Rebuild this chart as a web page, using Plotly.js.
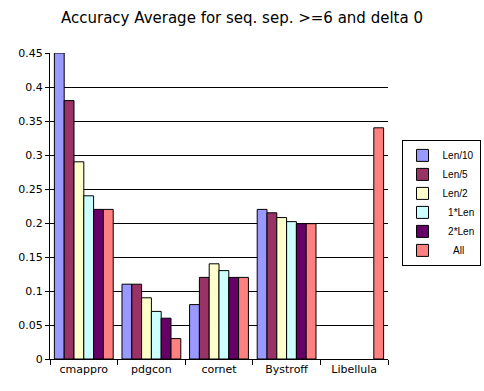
<!DOCTYPE html>
<html><head><meta charset="utf-8">
<script src="https://cdn.plot.ly/plotly-3.0.1.min.js"></script>
<style>html,body{margin:0;padding:0;background:#fff}</style>
</head><body><div id="chart" style="width:484px;height:391px"></div>
<script>
const categories = ["cmappro", "pdgcon", "cornet", "Bystroff", "Libellula"];
const seriesNames = ["Len/10", "Len/5", "Len/2", "  1*Len", "  2*Len", "    All"];
const len10 = [0.45, 0.11, 0.08, 0.22, null];
const len5  = [0.38, 0.11, 0.12, 0.215, null];
const len2  = [0.29, 0.09, 0.14, 0.208, null];
const len1x = [0.24, 0.07, 0.13, 0.202, null];
const len2x = [0.22, 0.06, 0.12, 0.199, null];
const all   = [0.22, 0.03, 0.12, 0.199, 0.34];
const colors = ["#9999FF", "#993366", "#FFFFCC", "#CCFFFF", "#660066", "#FF8080"];
const yTicks = [0, 0.05, 0.1, 0.15, 0.2, 0.25, 0.3, 0.35, 0.4, 0.45];
const yTickText = ["0", "0.05", "0.1", "0.15", "0.2", "0.25", "0.3", "0.35", "0.4", "0.45"];

const values = [len10, len5, len2, len1x, len2x, all];
const traces = values.map((v, i) => ({
  type: "bar", x: categories, y: v, name: seriesNames[i],
  marker: {color: colors[i], line: {color: "#000", width: 1}},
  hoverinfo: "none"
}));
const layout = {
  width: 484, height: 391,
  margin: {l: 50, r: 96, t: 53, b: 32, autoexpand: false},
  paper_bgcolor: "#fff", plot_bgcolor: "#fff",
  barmode: "group", bargap: 0.13, bargroupgap: 0,
  font: {family: "DejaVu Sans, Verdana, sans-serif", size: 11, color: "#000"},
  title: {text: "Accuracy Average for seq. sep. >=6 and delta 0",
          font: {size: 15, family: "DejaVu Sans, Verdana, sans-serif"},
          x: 0.5, xanchor: "center", y: 0.955, yanchor: "middle", yref: "container"},
  xaxis: {showline: true, linecolor: "#000", linewidth: 1, ticks: "outside", tickson: "boundaries",
          ticklen: 5, tickcolor: "#000", showgrid: false, zeroline: false,
          tickfont: {size: 11}},
  yaxis: {range: [0, 0.45], tickvals: yTicks, ticktext: yTickText, showline: true, linecolor: "#000",
          linewidth: 1, ticks: "outside", ticklen: 4, tickcolor: "#000", showgrid: true,
          gridcolor: "#000", gridwidth: 1, zeroline: false, tickfont: {size: 11}},
  legend: {x: 1.04, xanchor: "left", y: 0.716, yanchor: "top", bordercolor: "#000", borderwidth: 1,
           bgcolor: "#fff", font: {size: 10, family: "Liberation Sans, Arial, sans-serif"},
           tracegroupgap: 0, itemwidth: 30},
  showlegend: true
};
Plotly.newPlot("chart", traces, layout, {displayModeBar: false, staticPlot: true});
</script></body></html>
